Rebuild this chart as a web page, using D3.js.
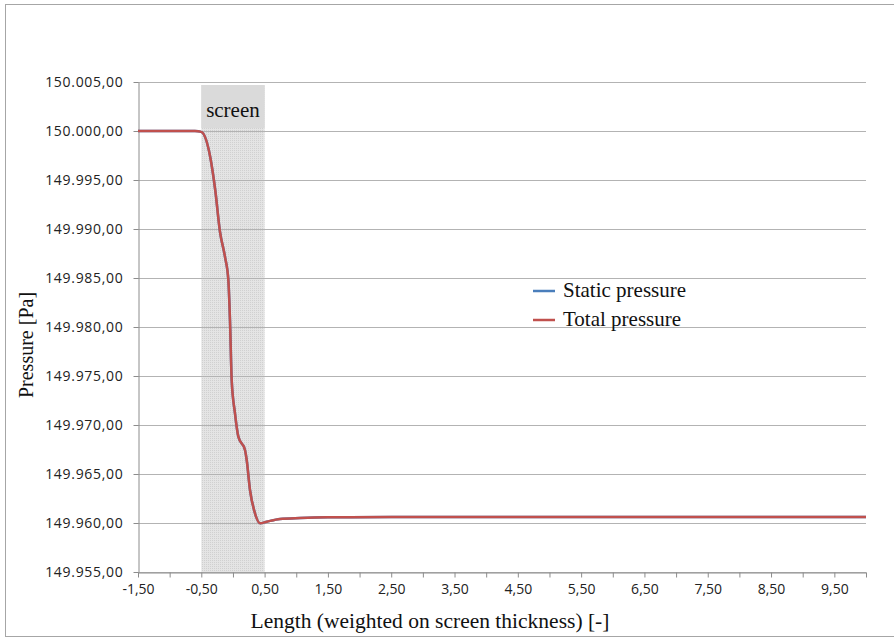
<!DOCTYPE html>
<html>
<head>
<meta charset="utf-8">
<script src="https://cdn.jsdelivr.net/npm/d3@7"></script>
<style>
  body { margin: 0; background: #fff; }
  svg { display: block; }
</style>
</head>
<body>
<script>
// data (Pa)
const posicoes = [-1.50, -1.00, -0.60, -0.55, -0.49, -0.36, -0.28, -0.205, -0.126, -0.073, -0.047, -0.02,
                  0.032, 0.085, 0.19, 0.217, 0.269, 0.348, 0.427, 0.533, 0.743, 1.06, 1.5, 2.5, 4.0, 6.0, 8.0, 10.0];
const pressaoTotal = [150000.00, 150000.00, 150000.00, 149999.98, 149999.87, 149997.38, 149993.98, 149989.72,
                      149987.17, 149984.80, 149980.71, 149974.59, 149971.19, 149968.81, 149967.45, 149966.43,
                      149963.37, 149960.99, 149959.97, 149960.13, 149960.41, 149960.51, 149960.58, 149960.60,
                      149960.60, 149960.60, 149960.60, 149960.60];
const pressaoEstatica = pressaoTotal.slice();
const rotulosY = [149955, 149960, 149965, 149970, 149975, 149980, 149985, 149990, 149995, 150000, 150005];
const rotulosX = [-1.5, -0.5, 0.5, 1.5, 2.5, 3.5, 4.5, 5.5, 6.5, 7.5, 8.5, 9.5];
const faixaTela = [-0.5, 0.5];
const series = [
  { nome: "Static pressure", cor: "#4a7ebb", valores: pressaoEstatica },
  { nome: "Total pressure", cor: "#c0504d", valores: pressaoTotal }
];

const largura = 894, altura = 639;
const margens = { c: 82, d: 28, b: 67, e: 138 };
const dim = { l: largura - margens.e - margens.d, a: altura - margens.c - margens.b };

const svg = d3.select("body").append("svg")
              .attr("width", largura)
              .attr("height", altura);

// moldura externa
svg.append("rect")
   .attr("x", 5.5).attr("y", 4.5)
   .attr("width", 900).attr("height", 632)
   .attr("fill", "none").attr("stroke", "#a6a6a6");

const defs = svg.append("defs");
const padrao = defs.append("pattern")
                   .attr("id", "pontos")
                   .attr("width", 2).attr("height", 2)
                   .attr("patternUnits", "userSpaceOnUse");
padrao.append("rect").attr("width", 2).attr("height", 2).attr("fill", "#e4e4e4");
padrao.append("rect").attr("width", 1).attr("height", 1).attr("fill", "#d0d0d0");

const g = svg.append("g")
             .attr("transform", "translate(" + margens.e + "," + margens.c + ")");

const xEscala = d3.scaleLinear().domain([-1.5, 10]).range([0, dim.l]);
const yEscala = d3.scaleLinear().domain([149955, 150005]).range([dim.a, 0]);

const fmtY = function(v) {
  return d3.format(",.2f")(v).replace(/,/g, "#").replace(".", ",").replace(/#/g, ".");
};
const fmtX = function(v) { return d3.format(".2f")(v).replace(".", ",").replace("\u2212", "-"); };

// faixa da tela
g.append("rect")
 .attr("x", xEscala(faixaTela[0])).attr("y", 3)
 .attr("width", xEscala(faixaTela[1]) - xEscala(faixaTela[0]))
 .attr("height", dim.a - 3)
 .attr("fill", "url(#pontos)");
g.append("rect")
 .attr("x", xEscala(faixaTela[0])).attr("y", 3)
 .attr("width", xEscala(faixaTela[1]) - xEscala(faixaTela[0]))
 .attr("height", 43)
 .attr("fill", "#dadada");

// grade
g.selectAll("line.grade")
 .data(rotulosY)
 .enter()
 .append("line")
 .attr("class", "grade")
 .attr("x1", 0).attr("x2", dim.l)
 .attr("y1", function(d) { return Math.round(yEscala(d)) + 0.5; })
 .attr("y2", function(d) { return Math.round(yEscala(d)) + 0.5; })
 .attr("stroke", "#b3b3b3");

g.append("text")
 .attr("x", (xEscala(faixaTela[0]) + xEscala(faixaTela[1])) / 2)
 .attr("y", 35)
 .attr("text-anchor", "middle")
 .attr("font-family", "Liberation Serif, Times New Roman, serif")
 .attr("font-size", 21)
 .attr("fill", "#111")
 .text("screen");

// eixos
const xEixo = d3.axisBottom(xEscala)
                .tickValues(d3.range(-1.5, 10.01, 0.5))
                .tickFormat(function(d) { return rotulosX.some(function(r) { return Math.abs(r - d) < 1e-6; }) ? fmtX(d) : ""; })
                .tickSizeInner(5).tickSizeOuter(0).tickPadding(7);
const yEixo = d3.axisLeft(yEscala)
                .tickValues(rotulosY)
                .tickFormat(fmtY)
                .tickSizeInner(5).tickSizeOuter(0).tickPadding(10);

const gx = g.append("g").attr("transform", "translate(0," + (dim.a + 0.5) + ")").call(xEixo);
const gy = g.append("g").attr("transform", "translate(0.5,0)").call(yEixo);
[gx, gy].forEach(function(ax) {
  ax.selectAll("path, line").attr("stroke", "#8c8c8c");
  ax.selectAll("text")
    .attr("font-family", "Open Sans, Liberation Sans, sans-serif")
    .attr("font-size", 14)
    .attr("fill", "#222");
});
gy.selectAll("text").attr("letter-spacing", 0.7);

// linhas
const linha = d3.line()
                .x(function(d, i) { return xEscala(posicoes[i]); })
                .y(function(d) { return yEscala(d); })
                .curve(d3.curveMonotoneX);

g.selectAll("path.serie")
 .data(series)
 .enter()
 .append("path")
 .attr("class", "serie")
 .attr("d", function(s) { return linha(s.valores); })
 .attr("fill", "none")
 .attr("stroke", function(s) { return s.cor; })
 .attr("stroke-width", 2.5);

// legenda
const legenda = g.append("g").attr("transform", "translate(395,209)");
const itens = legenda.selectAll("g")
                     .data(series)
                     .enter()
                     .append("g")
                     .attr("transform", function(d, i) { return "translate(0," + (i * 29) + ")"; });
itens.append("line")
     .attr("x1", 0).attr("x2", 22)
     .attr("stroke", function(d) { return d.cor; })
     .attr("stroke-width", 2.5);
itens.append("text")
     .attr("x", 30).attr("y", 6)
     .attr("font-family", "Liberation Serif, Times New Roman, serif")
     .attr("font-size", 21)
     .attr("fill", "#111")
     .text(function(d) { return d.nome; });

// titulos
svg.append("text")
   .attr("x", 430).attr("y", 628)
   .attr("text-anchor", "middle")
   .attr("font-family", "Liberation Serif, Times New Roman, serif")
   .attr("font-size", 21.5)
   .attr("fill", "#111")
   .text("Length (weighted on screen thickness) [-]");

svg.append("text")
   .attr("transform", "translate(33,345) rotate(-90)")
   .attr("text-anchor", "middle")
   .attr("font-family", "Liberation Serif, Times New Roman, serif")
   .attr("font-size", 20)
   .attr("fill", "#111")
   .text("Pressure [Pa]");
</script>
</body>
</html>
